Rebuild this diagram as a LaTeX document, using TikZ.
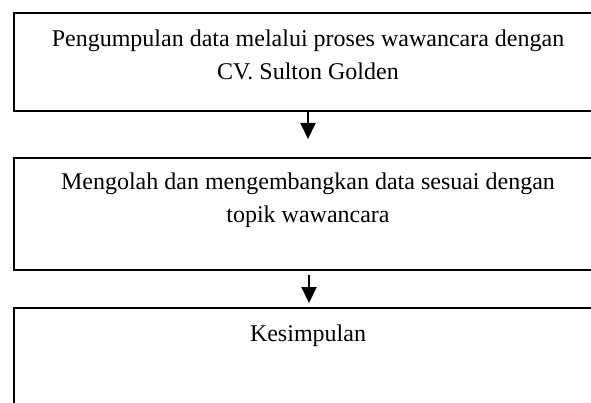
\documentclass[tikz,border=0pt]{standalone}
\usepackage{fontspec}
\setmainfont{Liberation Serif}
\usetikzlibrary{arrows.meta}
\tikzset{
  stepbox/.style={draw=black, line width=1.7pt, minimum width=588pt, inner sep=0pt, outer sep=0pt},
  steptext/.style={anchor=base, align=center, inner sep=0pt, font=\fontsize{24pt}{33pt}\selectfont},
  flowarrow/.style={line width=2pt, -{Triangle[width=15pt,length=16pt]}}
}
\begin{document}
\begin{tikzpicture}[x=1pt,y=-1pt]
\useasboundingbox (0,0) rectangle (591,403);
\clip (0,0) rectangle (591,403);
\node[stepbox, minimum height=98pt] (b1) at (308,62) {};
\node[stepbox, minimum height=112pt] (b2) at (308,214) {};
\node[stepbox, minimum height=122pt] (b3) at (308,369) {};
\node[steptext] (t1) at (308,80) {Pengumpulan data melalui proses wawancara dengan\\CV. Sulton Golden};
\node[steptext] (t2) at (308,223) {Mengolah dan mengembangkan data sesuai dengan\\topik wawancara};
\node[steptext] (t3) at (308,341) {Kesimpulan};
\coordinate (a1s) at (308,111);
\coordinate (a1e) at (308,139);
\coordinate (a2s) at (309,275);
\coordinate (a2e) at (309,303);
\draw[flowarrow] (a1s) -- (a1e);
\draw[flowarrow] (a2s) -- (a2e);
\end{tikzpicture}
\end{document}
